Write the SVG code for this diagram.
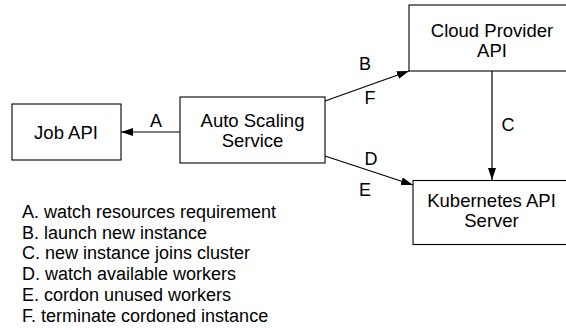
<svg xmlns="http://www.w3.org/2000/svg" width="566" height="330" viewBox="0 0 566 330">
<style>
.box{fill:#fff;stroke:#000;stroke-width:1.1}
.t{font-family:"Liberation Sans",Arial,sans-serif;font-size:18px;fill:#000}
.n{font-size:18.5px}
.c{text-anchor:middle}
.ln{stroke:#000;stroke-width:1.2;fill:none}
</style>
<defs>
<marker id="ah" viewBox="0 0 12 8" refX="12" refY="4" markerWidth="12" markerHeight="8" markerUnits="userSpaceOnUse" orient="auto">
<path d="M0,0 L12,4 L0,8 z" fill="#000"/>
</marker>
</defs>
<rect width="566" height="330" fill="#fff"/>
<g id="connectors">
<line class="ln" x1="180" y1="132" x2="121" y2="132" marker-end="url(#ah)"/>
<line class="ln" x1="325" y1="101" x2="409" y2="71" marker-end="url(#ah)"/>
<line class="ln" x1="492" y1="71" x2="492" y2="180" marker-end="url(#ah)"/>
<line class="ln" x1="325" y1="156" x2="413" y2="185" marker-end="url(#ah)"/>
<text class="t c" x="156" y="126.5">A</text>
<text class="t c" x="365" y="70">B</text>
<text class="t c" x="370" y="103.5">F</text>
<text class="t c" x="508" y="130.5">C</text>
<text class="t c" x="371" y="165">D</text>
<text class="t c" x="365" y="196">E</text>
</g>
<g id="job-api">
<rect class="box" x="12" y="104" width="109" height="56"/>
<text class="t n c" x="66" y="139">Job API</text>
</g>
<g id="auto-scaling">
<rect class="box" x="180" y="97" width="145" height="66"/>
<text class="t n c" x="252.5" y="127">Auto Scaling</text>
<text class="t n c" x="252.5" y="147.3">Service</text>
</g>
<g id="cloud-provider">
<rect class="box" x="409" y="5" width="166" height="66"/>
<text class="t n c" x="492" y="36.7">Cloud Provider</text>
<text class="t n c" x="492" y="56.7">API</text>
</g>
<g id="kubernetes">
<rect class="box" x="413" y="180.5" width="158" height="64"/>
<text class="t n c" x="491.5" y="207.3">Kubernetes API</text>
<text class="t n c" x="491.5" y="227.3">Server</text>
</g>
<g id="legend">
<text class="t" x="22" y="218">A. watch resources requirement</text>
<text class="t" x="22" y="238.7">B. launch new instance</text>
<text class="t" x="22" y="259.4">C. new instance joins cluster</text>
<text class="t" x="22" y="280.1">D. watch available workers</text>
<text class="t" x="22" y="300.8">E. cordon unused workers</text>
<text class="t" x="22" y="321.5">F. terminate cordoned instance</text>
</g>
</svg>
